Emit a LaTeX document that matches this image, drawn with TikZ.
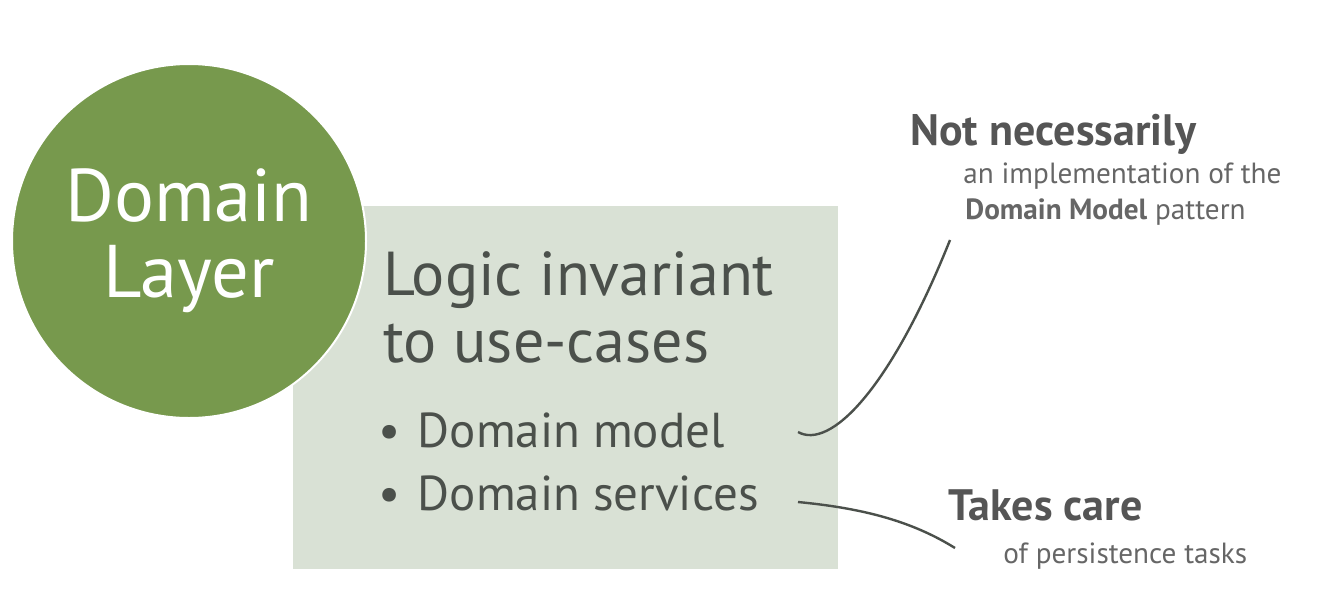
\documentclass[tikz,border=0pt]{standalone}
\usepackage{fontspec}
\setmainfont{PT Sans}
\usetikzlibrary{positioning}

\definecolor{layergreen}{HTML}{77994D}
\definecolor{boxgreen}{HTML}{D9E1D5}
\definecolor{darktext}{HTML}{4B504B}
\definecolor{notetext}{HTML}{555555}
\definecolor{smalltext}{HTML}{666666}

\tikzset{
  txt/.style={anchor=base west, inner sep=0pt, text=darktext},
  note/.style={anchor=base west, inner sep=0pt, text=notetext, font=\fontsize{22}{24}\selectfont\bfseries},
  subnote/.style={anchor=base west, inner sep=0pt, text=smalltext, font=\fontsize{14.6}{17}\selectfont},
  link/.style={draw=darktext, line width=1.2pt}
}

\begin{document}
\begin{tikzpicture}[x=0.5pt,y=-0.5pt]
\useasboundingbox (0,0) rectangle (1326,600);
% box with the content
\fill[boxgreen] (293,206) rectangle (838,569);
% the layer
\node[circle, fill=layergreen, draw=white, line width=1pt, minimum size=177pt,
      text=white, align=center, font=\fontsize{37.3}{38}\selectfont] (layer) at (189,241) {Domain\\Layer};

\node[txt, font=\fontsize{31}{33.5}\selectfont] (logic) at (383,295) {Logic invariant};
\node[txt, font=\fontsize{31}{33.5}\selectfont] (usecases) at (383,362) {to use-cases};
\node[txt, font=\fontsize{24.5}{26}\selectfont] (model) at (378,447) {\textbullet\hspace{8.6pt}Domain model};
\node[txt, font=\fontsize{24.5}{26}\selectfont] (services) at (378,510) {\textbullet\hspace{8.6pt}Domain services};

% notes
\node[note] (notnec) at (910,145) {Not necessarily};
\node[subnote] (impl) at (963,183) {an implementation of the};
\node[subnote] (pattern) at (965,219) {\textbf{Domain Model} pattern};
\node[note] (takes) at (948,520) {Takes care};
\node[subnote] (persist) at (1003,563) {of persistence tasks};

\coordinate (m1) at (798,432);
\coordinate (m2) at (950,240);
\coordinate (s1) at (798,502);
\coordinate (s2) at (955,548);
\draw[link] (m1) .. controls (830,450) and (890,390) .. (m2);
\draw[link] (s1) .. controls (860,508) and (910,520) .. (s2);
\end{tikzpicture}
\end{document}
